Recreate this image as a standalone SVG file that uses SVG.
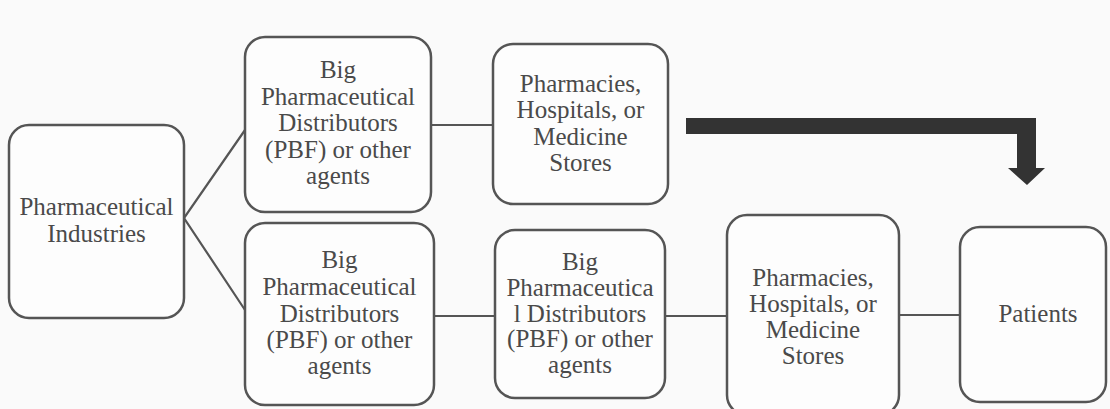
<svg xmlns="http://www.w3.org/2000/svg" width="1110" height="409" viewBox="0 0 1110 409">
<style>
.box{fill:#fdfdfd;stroke:#555;stroke-width:2.5}
.lbl{font-family:"Liberation Serif","Times New Roman",serif;font-size:25px;fill:#4a4a4a;text-anchor:middle}
.con{stroke:#555;stroke-width:2.2;fill:none}
</style>
<rect width="1110" height="409" fill="#fafafa"/>
<g id="connectors">
<polyline class="con" points="245,130 184,218 245,310"/>
<line class="con" x1="431" y1="125" x2="493" y2="125"/>
<line class="con" x1="434" y1="316" x2="495" y2="316"/>
<line class="con" x1="665" y1="316" x2="727" y2="316"/>
<line class="con" x1="899" y1="315" x2="960" y2="315"/>
<polygon points="686,118 1036,118 1036,168 1045,168 1027,185 1008,168 1017,168 1017,134 686,134" fill="#333"/>
</g>
<g id="n1">
<rect class="box" x="9" y="125" width="175" height="193" rx="20"/>
<text class="lbl" x="96.5" y="215">Pharmaceutical</text>
<text class="lbl" x="96.5" y="242">Industries</text>
</g>
<g id="n2">
<rect class="box" x="245" y="37" width="186" height="175" rx="20"/>
<text class="lbl" x="338" y="78">Big</text>
<text class="lbl" x="338" y="105">Pharmaceutical</text>
<text class="lbl" x="338" y="131">Distributors</text>
<text class="lbl" x="338" y="158">(PBF) or other</text>
<text class="lbl" x="338" y="184">agents</text>
</g>
<g id="n3">
<rect class="box" x="493" y="44" width="175" height="160" rx="20"/>
<text class="lbl" x="580.5" y="92">Pharmacies,</text>
<text class="lbl" x="580.5" y="118">Hospitals, or</text>
<text class="lbl" x="580.5" y="145">Medicine</text>
<text class="lbl" x="580.5" y="171">Stores</text>
</g>
<g id="n4">
<rect class="box" x="245" y="223" width="189" height="182" rx="20"/>
<text class="lbl" x="339.5" y="268">Big</text>
<text class="lbl" x="339.5" y="295">Pharmaceutical</text>
<text class="lbl" x="339.5" y="322">Distributors</text>
<text class="lbl" x="339.5" y="348">(PBF) or other</text>
<text class="lbl" x="339.5" y="374">agents</text>
</g>
<g id="n5">
<rect class="box" x="495" y="230" width="170" height="168" rx="20"/>
<text class="lbl" x="580" y="270">Big</text>
<text class="lbl" x="580" y="296">Pharmaceutica</text>
<text class="lbl" x="580" y="322">l Distributors</text>
<text class="lbl" x="580" y="347">(PBF) or other</text>
<text class="lbl" x="580" y="373">agents</text>
</g>
<g id="n6">
<rect class="box" x="727" y="215" width="172" height="200" rx="20"/>
<text class="lbl" x="813" y="286">Pharmacies,</text>
<text class="lbl" x="813" y="312">Hospitals, or</text>
<text class="lbl" x="813" y="338">Medicine</text>
<text class="lbl" x="813" y="364">Stores</text>
</g>
<g id="n7">
<rect class="box" x="960" y="227" width="146" height="175" rx="20"/>
<text class="lbl" x="1038" y="322">Patients</text>
</g>
</svg>
